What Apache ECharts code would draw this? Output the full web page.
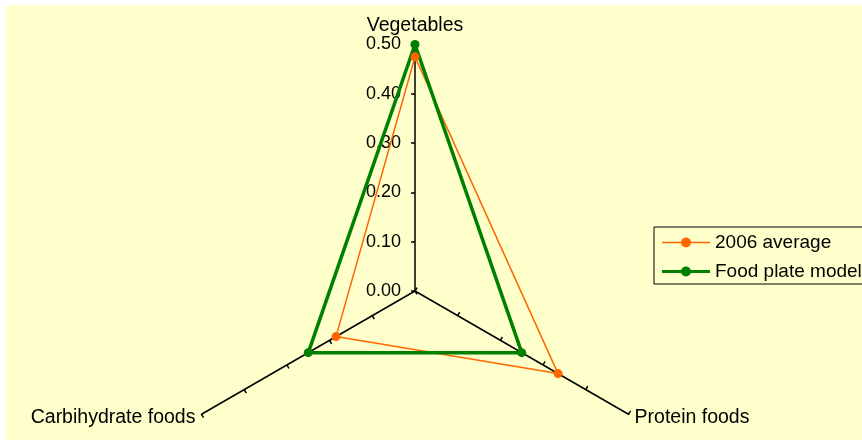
<!DOCTYPE html>
<html>
<head>
<meta charset="utf-8">
<script src="https://cdn.jsdelivr.net/npm/echarts@6/dist/echarts.min.js"></script>
<style>
html,body{margin:0;padding:0;background:#ffffff;}
#chart{position:absolute;left:6px;top:5px;width:856px;height:435px;}
</style>
</head>
<body>
<div id="chart"></div>
<script>
var categories = ['Vegetables', 'Carbihydrate foods', 'Protein foods'];
var avg2006 = [0.475, 0.185, 0.335];
var foodPlate = [0.5, 0.25, 0.25];
var seriesNames = ['2006 average', 'Food plate model'];
var axisMax = 0.5;

var chart = echarts.init(document.getElementById('chart'));
var font = 'Liberation Sans, Arial, sans-serif';

var indicator = categories.map(function (c, i) {
  return {
    name: c,
    min: 0,
    max: axisMax,
    axisLabel: { show: i === 0 }
  };
});
var indicator2 = categories.map(function (c) {
  return { name: c, min: 0, max: axisMax };
});

var radarBase = {
  center: [409, 286],
  radius: 246.5,
  startAngle: 90,
  shape: 'polygon',
  splitNumber: 5,
  splitLine: { show: false },
  splitArea: { show: false }
};

chart.setOption({
  backgroundColor: '#FFFFCC',
  animation: false,
  legend: {
    left: 648,
    top: 222,
    orient: 'vertical',
    backgroundColor: '#FFFFCC',
    borderColor: '#000',
    borderWidth: 1,
    padding: [6, 10, 3, 8],
    itemGap: 10,
    itemWidth: 48,
    itemHeight: 12,
    textStyle: { fontFamily: font, fontSize: 19, color: '#000' },
    data: [
      { name: seriesNames[0], icon: 'path://M0,5.2h19.5v1.6h-19.5z M28.5,5.2h19.5v1.6h-19.5z M24,1a5,5 0 1,1 -0.01,0z' },
      { name: seriesNames[1], icon: 'path://M0,4.5h19.5v3h-19.5z M28.5,4.5h19.5v3h-19.5z M24,1a5,5 0 1,1 -0.01,0z' }
    ]
  },
  radar: [
    Object.assign({}, radarBase, {
      indicator: indicator,
      nameGap: 7,
      axisName: { color: '#000', fontFamily: font, fontSize: 19.5 },
      axisLine: { show: true, lineStyle: { color: '#000', width: 1.5 } },
      axisTick: { show: true, length: 4, lineStyle: { color: '#000', width: 1.5 } },
      axisLabel: {
        show: true,
        color: '#000',
        fontFamily: font,
        fontSize: 18,
        margin: 14,
        formatter: function (v) { return v.toFixed(2); }
      }
    }),
    Object.assign({}, radarBase, {
      indicator: indicator2,
      axisName: { show: false },
      axisLine: { show: false },
      axisTick: { show: true, inside: true, length: 4, lineStyle: { color: '#000', width: 1.5 } },
      axisLabel: { show: false }
    })
  ],
  series: [{
    type: 'radar',
    radarIndex: 0,
    symbol: 'circle',
    symbolSize: 9,
    data: [
      {
        name: seriesNames[0],
        value: avg2006,
        lineStyle: { color: '#FF6600', width: 1.5 },
        itemStyle: { color: '#FF6600' }
      },
      {
        name: seriesNames[1],
        value: foodPlate,
        lineStyle: { color: '#008000', width: 3.5 },
        itemStyle: { color: '#008000' }
      }
    ]
  }]
});
</script>
</body>
</html>
